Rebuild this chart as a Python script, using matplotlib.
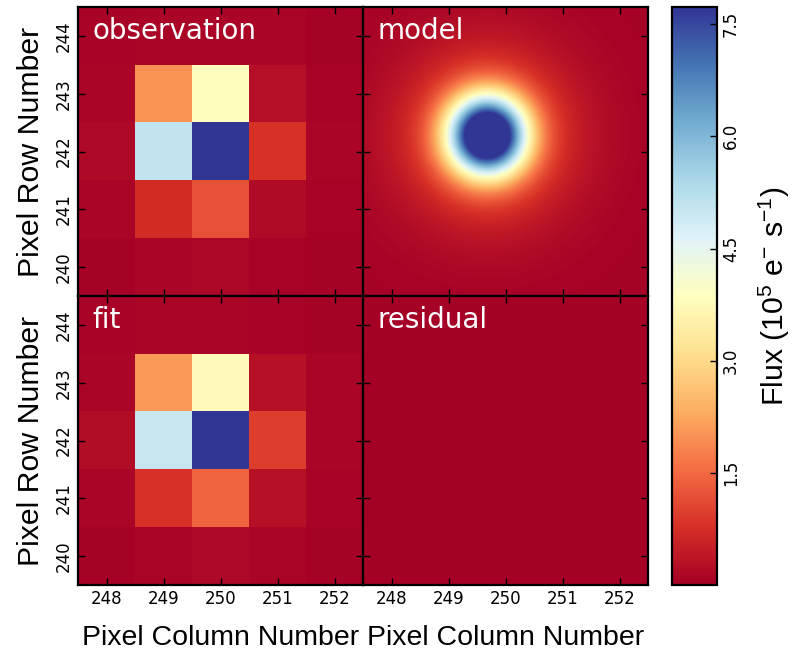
import numpy as np
import matplotlib.pyplot as plt
from matplotlib import font_manager

# pick a narrow sans for the big labels if it is around
names = set(f.name for f in font_manager.fontManager.ttflist)
narrow = 'Liberation Sans Narrow' in names
label_font = 'Liberation Sans Narrow' if narrow else 'Liberation Sans'
col_size = 24 if narrow else 20.5
row_size = 25 if narrow else 21.8

plt.rcParams['mathtext.fontset'] = 'custom'
plt.rcParams['mathtext.rm'] = label_font
plt.rcParams['mathtext.default'] = 'regular'

# pixel grid
columns = [248, 249, 250, 251, 252]
rows = [244, 243, 242, 241, 240]   # top to bottom

# flux, 1e5 e-/s, rows listed top to bottom
observation = [
    [0.08, 0.12, 0.12, 0.10, 0.06],
    [0.10, 2.00, 3.85, 0.25, 0.08],
    [0.18, 5.05, 7.90, 0.80, 0.10],
    [0.10, 0.72, 1.20, 0.20, 0.08],
    [0.06, 0.10, 0.14, 0.08, 0.05],
]
fit = [
    [0.08, 0.10, 0.10, 0.08, 0.06],
    [0.12, 2.10, 3.80, 0.30, 0.10],
    [0.22, 5.00, 7.90, 0.95, 0.12],
    [0.12, 0.80, 1.45, 0.28, 0.09],
    [0.06, 0.12, 0.18, 0.10, 0.06],
]
residual = [
    [0.01, 0.02, 0.02, 0.01, 0.01],
    [0.02, 0.01, 0.03, 0.02, 0.01],
    [0.01, 0.02, 0.02, 0.03, 0.01],
    [0.01, 0.01, 0.02, 0.01, 0.01],
    [0.01, 0.01, 0.01, 0.01, 0.01],
]

# model PSF: centre, core and wing
model_center = (249.68, 242.28)
core_amp, core_sigma = 9.0, 0.47
wing_amp, wing_sigma = 1.5, 1.0
model_bg = 0.05

vmin, vmax = 0.0, 7.73
cbar_ticks = [1.5, 3.0, 4.5, 6.0, 7.5]
extent = (247.5, 252.5, 239.5, 244.5)

# fine grid for the model image
xx, yy = np.meshgrid(np.linspace(247.5, 252.5, 300), np.linspace(244.5, 239.5, 300))
r2 = (xx - model_center[0])**2 + (yy - model_center[1])**2
model = (core_amp * np.exp(-r2 / (2 * core_sigma**2))
         + wing_amp * np.exp(-r2 / (2 * wing_sigma**2)) + model_bg)

fig = plt.figure(figsize=(7.94, 6.56), dpi=100)

W, H = 794.0, 656.0
def box(x0, y0, x1, y1):
    return [x0 / W, 1 - y1 / H, (x1 - x0) / W, (y1 - y0) / H]

panels = [
    (box(78, 7, 363, 296), observation, 'observation', 'nearest'),
    (box(363, 7, 648, 296), model, 'model', 'bilinear'),
    (box(78, 296, 363, 585), fit, 'fit', 'nearest'),
    (box(363, 296, 648, 585), residual, 'residual', 'nearest'),
]

cmap = 'RdYlBu'
for i, (pos, data, name, interp) in enumerate(panels):
    ax = fig.add_axes(pos)
    im = ax.imshow(np.array(data), origin='upper', extent=extent, cmap=cmap,
                   vmin=vmin, vmax=vmax, interpolation=interp, aspect='auto')
    ax.set_xlim(247.5, 252.5)
    ax.set_ylim(239.5, 244.5)
    ax.set_xticks(columns)
    ax.set_yticks(rows)
    ax.tick_params(direction='in', top=True, right=True, length=5, width=1,
                   labelsize=12, color='black')
    for s in ax.spines.values():
        s.set_linewidth(1.6)
    ax.text(0.05, 0.965, name, transform=ax.transAxes, color='white',
            fontsize=20, va='top', ha='left')
    if i % 2 == 0:
        ax.set_ylabel('Pixel Row Number', family=label_font, fontsize=row_size, labelpad=7)
        for t in ax.get_yticklabels():
            t.set_rotation(90)
            t.set_va('center')
    else:
        ax.set_yticklabels([])
    if i < 2:
        ax.set_xticklabels([])
    else:
        ax.set_xlabel('Pixel Column Number', family=label_font, fontsize=col_size, labelpad=12)

cax = fig.add_axes(box(672, 7, 717, 585))
cb = fig.colorbar(im, cax=cax, ticks=cbar_ticks)
cb.outline.set_linewidth(1.6)
cax.tick_params(direction='in', length=5, width=1, labelsize=12)
for t in cax.get_yticklabels():
    t.set_rotation(90)
    t.set_va('center')
cb.set_label('Flux (10$^5$ e$^{-}$ s$^{-1}$)', family=label_font, fontsize=row_size, labelpad=12)

fig.savefig('out.png', dpi=100)
